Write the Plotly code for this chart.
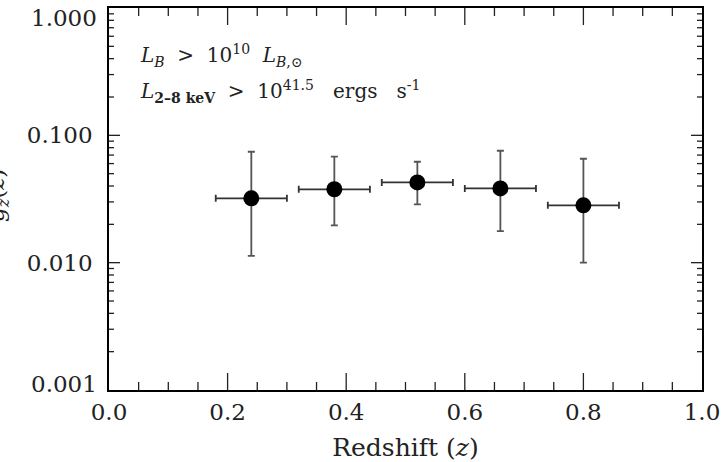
import plotly.graph_objects as go

# Data
z = [0.24, 0.38, 0.52, 0.66, 0.80]
z_err = [0.06, 0.06, 0.06, 0.06, 0.06]
gz = [0.032, 0.0377, 0.0427, 0.0383, 0.0282]
gz_hi = [0.0743, 0.068, 0.062, 0.0757, 0.0655]
gz_lo = [0.0113, 0.0196, 0.0287, 0.0177, 0.0100]

x_tickvals = [0.0, 0.2, 0.4, 0.6, 0.8, 1.0]
x_ticktext = ["0.0", "0.2", "0.4", "0.6", "0.8", "1.0"]
x_minorvals = [i / 20 for i in range(1, 20) if i % 4 != 0]
y_tickvals = [0.01, 0.1]
y_ticktext = ["0.010", "0.100"]
y_edge_labels = {"1.000": 1, "0.001": 0}  # labels at the top / bottom ends of the y range
y_minorvals = [m * d for d in (0.001, 0.01, 0.1) for m in range(2, 10)]

W, H = 721, 462
L, R, T, B = 109, 19, 8, 72
pw, ph = W - L - R, H - T - B

def px_x(x):
    return (x - L) / pw

def px_y(y):
    return 1 - (y - T) / ph

FONT = "DejaVu Serif"
ink = "#222222"
sp = "&nbsp;"

fig = go.Figure()
fig.add_trace(go.Scatter(
    x=z, y=gz, mode="markers",
    marker=dict(color="black", size=16),
    error_x=dict(type="data", array=z_err, color="#333333", thickness=1.8, width=3.5),
    error_y=dict(type="data", symmetric=False,
                 array=[h - v for h, v in zip(gz_hi, gz)],
                 arrayminus=[v - l for v, l in zip(gz, gz_lo)],
                 color="#555555", thickness=1.8, width=3.5),
    showlegend=False,
))

fig.update_layout(
    width=W, height=H,
    margin=dict(l=L, r=R, t=T, b=B, pad=0),
    paper_bgcolor="white", plot_bgcolor="white",
    font=dict(family=FONT, size=23, color=ink),
    xaxis=dict(
        range=[0, 1], tickmode="array", tickvals=x_tickvals, ticktext=x_ticktext,
        showgrid=False, zeroline=False, automargin=False,
        showline=True, linecolor="black", linewidth=1.5, mirror=True,
        ticks="", ticklabelstandoff=1,
        title=dict(text="Redshift" + sp + "(<i>z</i>)", font=dict(family=FONT, size=25), standoff=19),
    ),
    yaxis=dict(
        type="log", range=[-3, 0], automargin=False,
        tickmode="array", tickvals=y_tickvals, ticktext=y_ticktext,
        showgrid=False, zeroline=False,
        showline=True, linecolor="black", linewidth=1.5, mirror=True,
        ticks="", ticklabelstandoff=10,
    ),
)

# Tick marks on all four sides, positioned by the axes' own scales
tick_style = dict(color="#222222", width=1.3)
def x_ticks(vals, length_px):
    for v in vals:
        if 0 < v < 1:
            fig.add_shape(type="line", xref="x", yref="y domain", x0=v, x1=v,
                          y0=0, y1=length_px / ph, line=tick_style, layer="above")
            fig.add_shape(type="line", xref="x", yref="y domain", x0=v, x1=v,
                          y0=1, y1=1 - length_px / ph, line=tick_style, layer="above")

def y_ticks(vals, length_px):
    for v in vals:
        if 0.001 < v < 1:
            fig.add_shape(type="line", xref="x domain", yref="y", y0=v, y1=v,
                          x0=0, x1=length_px / pw, line=tick_style, layer="above")
            fig.add_shape(type="line", xref="x domain", yref="y", y0=v, y1=v,
                          x0=1, x1=1 - length_px / pw, line=tick_style, layer="above")

x_ticks(x_tickvals, 17)
x_ticks(x_minorvals, 8)
y_ticks(y_tickvals, 11)
y_ticks(y_minorvals, 5)

# End labels of the y axis, nudged inside the canvas as in the original
for label, pos in y_edge_labels.items():
    fig.add_annotation(
        x=0, y=pos, xref="paper", yref="paper", xanchor="right", yanchor="middle",
        xshift=-10, yshift=(-10 if pos == 1 else 6), showarrow=False, text=label,
        font=dict(family=FONT, size=23, color=ink),
    )

fig.add_annotation(
    x=px_x(138), y=px_y(55), xref="paper", yref="paper",
    xanchor="left", yanchor="middle", showarrow=False,
    text="<i>L</i><sub><i>B</i></sub>" + sp * 2 + "&gt;" + sp * 2 + "10<sup>10</sup>" + sp * 2
         + "<i>L</i><sub><i>B</i>,⊙</sub>",
    font=dict(family=FONT, size=20, color=ink),
)
fig.add_annotation(
    x=px_x(138), y=px_y(91), xref="paper", yref="paper",
    xanchor="left", yanchor="middle", showarrow=False,
    text="<i>L</i><sub><b>2–8" + sp + "keV</b></sub>" + sp * 2 + "&gt;" + sp * 2 + "10<sup>41.5</sup>"
         + sp * 3 + "ergs" + sp * 3 + "s<sup>-1</sup>",
    font=dict(family=FONT, size=20, color=ink),
)
fig.add_annotation(
    x=px_x(-2), y=px_y(196), xref="paper", yref="paper",
    xanchor="center", yanchor="middle", showarrow=False, textangle=-90,
    text="<i>g</i><sub><i>z</i></sub>(<i>z</i>)",
    font=dict(family=FONT, size=23, color=ink),
)

fig.write_html("out.html")
